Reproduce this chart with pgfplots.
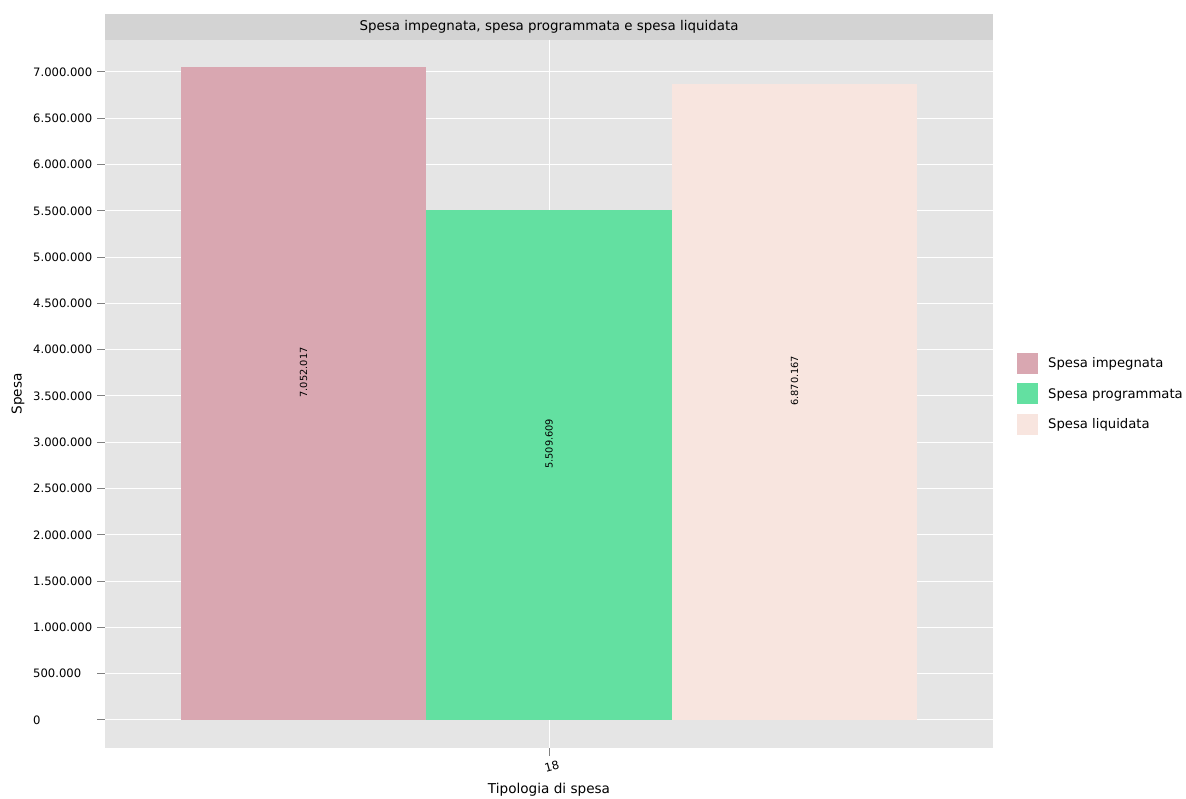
\documentclass[border=0pt]{standalone}
\usepackage{pgfplots}
\pgfplotsset{compat=1.18}
\usepackage{fontspec}
\setmainfont{DejaVu Sans}
\definecolor{panelbg}{RGB}{229,229,229}
\definecolor{stripbg}{RGB}{211,211,211}
\definecolor{cimp}{RGB}{217,167,177}
\definecolor{cprog}{RGB}{99,224,161}
\definecolor{cliq}{RGB}{248,229,223}
\definecolor{tickgray}{RGB}{128,128,128}
\begin{document}
\begin{tikzpicture}
\path[use as bounding box, fill=white] (0,0) rectangle (1186pt,798pt);
\fill[stripbg] (105pt,758pt) rectangle (993pt,784pt);
\node[font=\fontsize{13.4}{15}\selectfont] at (549pt,771pt) {Spesa impegnata, spesa programmata e spesa liquidata};
\begin{axis}[
  at={(105pt,50pt)}, anchor=south west,
  scale only axis, width=888pt, height=708pt,
  xmin=-444, xmax=444, ymin=-302500, ymax=7345700,
  axis background/.style={fill=panelbg},
  axis line style={draw=none},
  ybar, bar width=245.5,
  xtick={0}, xticklabels={18},
  ytick={0,500000,...,7000000},
  scaled y ticks=false,
  grid=major, major grid style={white, line width=1pt},
  tick align=outside, major tick length=8pt,
  tick pos=left,
  tick style={tickgray, line width=1pt},
  /pgf/number format/assume math mode=true,
  yticklabel style={/pgf/number format/.cd, fixed, 1000 sep={.}, /tikz/.cd,
    anchor=west, inner sep=0pt, xshift=-64pt, font=\fontsize{11.6}{13}\selectfont},
  xticklabel style={rotate=15, anchor=north, yshift=-3pt, font=\fontsize{11.6}{13}\selectfont},
  xlabel={Tipologia di spesa},
  ylabel={Spesa},
  label style={font=\fontsize{13.6}{15}\selectfont},
  xlabel style={at={(axis description cs:0.5,-0.0593)}, anchor=center},
  ylabel style={at={(axis description cs:-0.098,0.5)}, anchor=center, rotate=0},
  legend style={at={(1.0236,0.5)}, anchor=west, draw=none, fill=none,
    font=\fontsize{13.2}{15}\selectfont, row sep=9.5pt,
    /tikz/every odd column/.append style={column sep=8pt}},
  legend cell align=left,
  legend image code/.code={\fill[#1,draw=none] (0pt,-10.5pt) rectangle (21pt,10.5pt);},
]
\addplot[fill=cimp, draw=none, bar shift=0pt] coordinates {(-245.5,7052017)};
\addplot[fill=cprog, draw=none, bar shift=0pt] coordinates {(0,5509609)};
\addplot[fill=cliq, draw=none, bar shift=0pt] coordinates {(245.5,6870167)};
\legend{Spesa impegnata, Spesa programmata, Spesa liquidata}
\addplot[draw=none, fill=none, bar shift=0pt, forget plot,
  nodes near coords, point meta=explicit symbolic,
  nodes near coords style={rotate=90, anchor=west, inner sep=0pt, xshift=-4pt,
    font=\fontsize{9.8}{11}\selectfont}]
  table[meta=label] {
x y label
-245.5 3526008 7.052.017
0 2754805 5.509.609
245.5 3435084 6.870.167
};
\end{axis}
\end{tikzpicture}
\end{document}
